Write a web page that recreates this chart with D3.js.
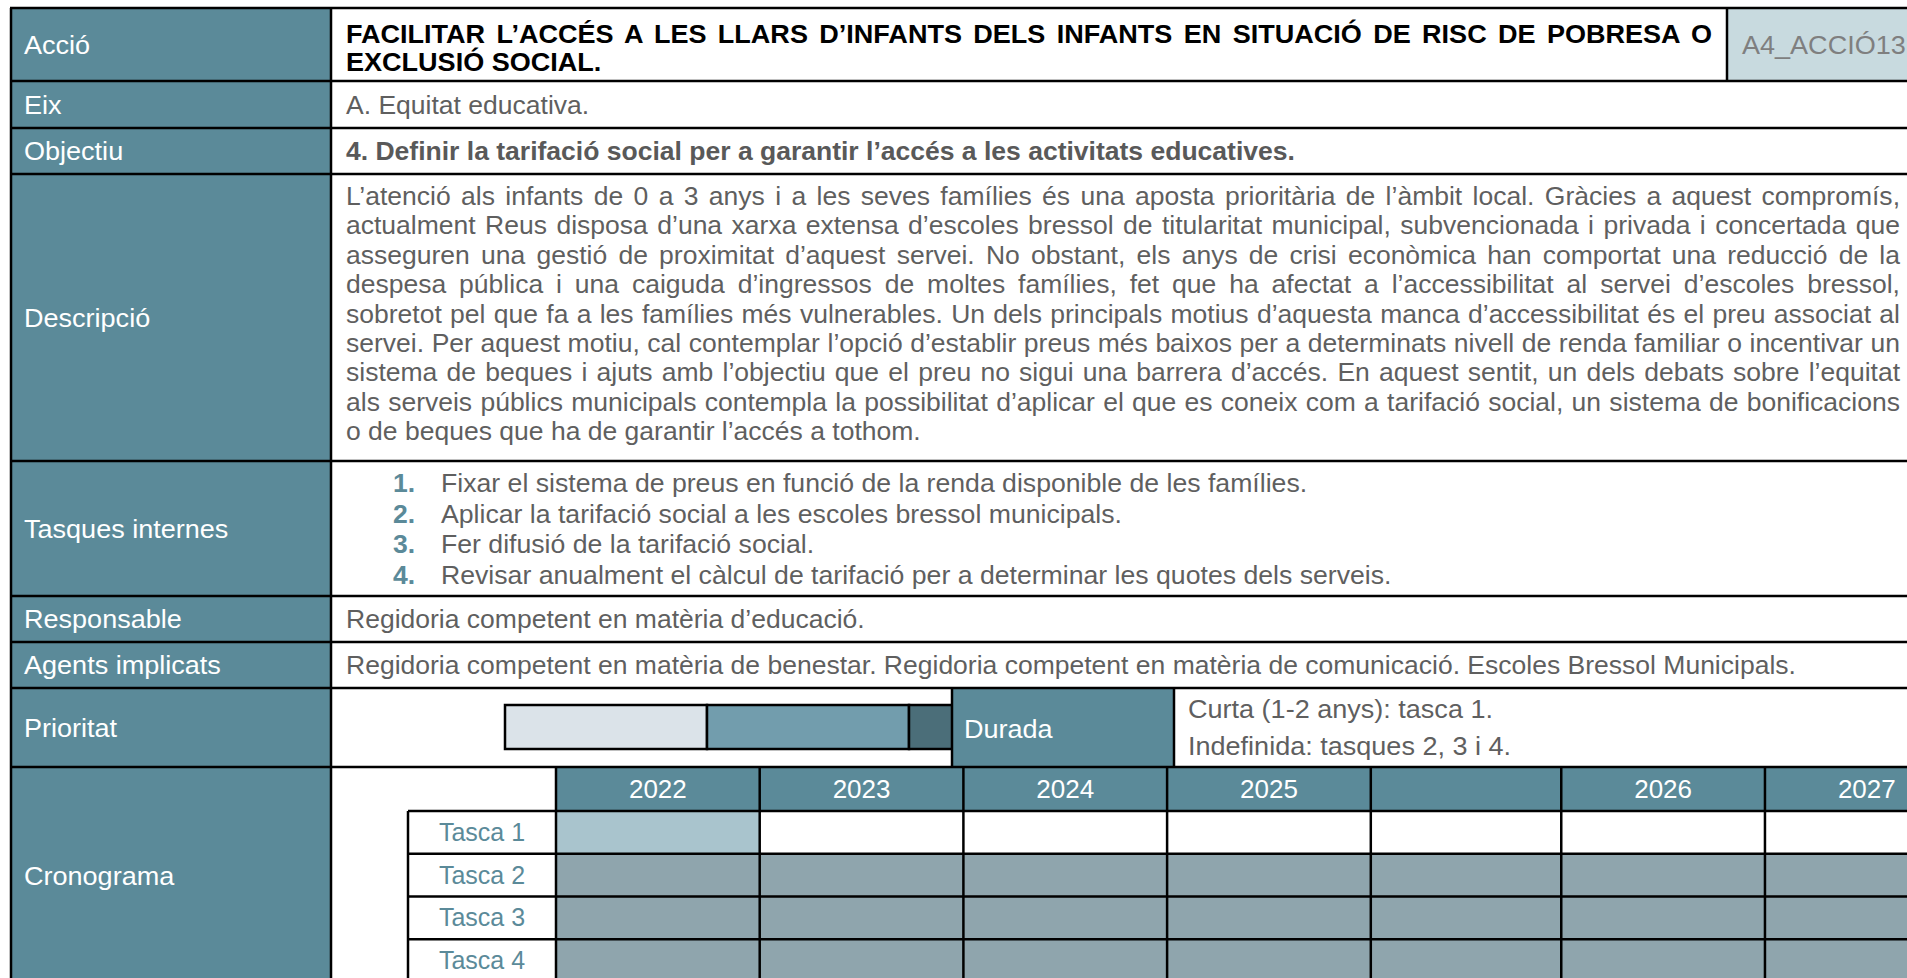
<!DOCTYPE html>
<html><head><meta charset="utf-8">
<script src="https://cdn.jsdelivr.net/npm/d3@7"></script>
<style>html,body{margin:0;padding:0;background:#fff;overflow:hidden}</style>
</head><body><svg id="c" width="1907" height="978"></svg>
<script>
// ---------------- DATA ----------------
const rowLabels = ["Acció","Eix","Objectiu","Descripció","Tasques internes","Responsable","Agents implicats","Prioritat","Cronograma"];
const titleLines = ["FACILITAR L’ACCÉS A LES LLARS D’INFANTS DELS INFANTS EN SITUACIÓ DE RISC DE POBRESA O","EXCLUSIÓ SOCIAL."];
const actionCode = "A4_ACCIÓ13";
const eixText = "A. Equitat educativa.";
const objectiuText = "4. Definir la tarifació social per a garantir l’accés a les activitats educatives.";
const descLines = [
  "L’atenció als infants de 0 a 3 anys i a les seves famílies és una aposta prioritària de l’àmbit local. Gràcies a aquest compromís,",
  "actualment Reus disposa d’una xarxa extensa d’escoles bressol de titularitat municipal, subvencionada i privada i concertada que",
  "asseguren una gestió de proximitat d’aquest servei. No obstant, els anys de crisi econòmica han comportat una reducció de la",
  "despesa pública i una caiguda d’ingressos de moltes famílies, fet que ha afectat a l’accessibilitat al servei d’escoles bressol,",
  "sobretot pel que fa a les famílies més vulnerables. Un dels principals motius d’aquesta manca d’accessibilitat és el preu associat al",
  "servei. Per aquest motiu, cal contemplar l’opció d’establir preus més baixos per a determinats nivell de renda familiar o incentivar un",
  "sistema de beques i ajuts amb l’objectiu que el preu no sigui una barrera d’accés. En aquest sentit, un dels debats sobre l’equitat",
  "als serveis públics municipals contempla la possibilitat d’aplicar el que es coneix com a tarifació social, un sistema de bonificacions",
  "o de beques que ha de garantir l’accés a tothom."
];
const internalTasks = [
  "Fixar el sistema de preus en funció de la renda disponible de les famílies.",
  "Aplicar la tarifació social a les escoles bressol municipals.",
  "Fer difusió de la tarifació social.",
  "Revisar anualment el càlcul de tarifació per a determinar les quotes dels serveis."
];
const responsableText = "Regidoria competent en matèria d’educació.";
const agentsText = "Regidoria competent en matèria de benestar. Regidoria competent en matèria de comunicació. Escoles Bressol Municipals.";
const priorityLevels = ["Baixa","Mitjana","Alta"];
const durationLabel = "Durada";
const durationLines = ["Curta (1-2 anys): tasca 1.","Indefinida: tasques 2, 3 i 4."];
const years = ["2022","2023","2024","2025","","2026","2027"];
const taskNames = ["Tasca 1","Tasca 2","Tasca 3","Tasca 4"];
// 0 = not scheduled, 1 = short-term, 2 = indefinite
const schedule = [
  [1,0,0,0,0,0,0],
  [2,2,2,2,2,2,2],
  [2,2,2,2,2,2,2],
  [2,2,2,2,2,2,2]
];

// ---------------- LAYOUT ----------------
const W = 1907, H = 978;
const FONT = "'Liberation Sans', Arial, Helvetica, sans-serif";
const SX = 1.02;
const TEAL = "#5b8a99", GREY = "#5f5f5f", LINE = "#000";
const LW = 2.5;
const xLeft = 11, xLab = 331, xText = 346, xRight = 1907;
const rowEdges = [8, 81, 128, 174, 461, 596, 642, 688, 767, 985];

const svg = d3.select("#c");
svg.append("rect").attr("width", W).attr("height", H).attr("fill", "#fff");

function txt(g, x, y, s, o = {}) {
  const sx = o.sx || SX;
  const t = g.append("text")
    .attr("transform", `translate(${x},${y}) scale(${sx},1)`)
    .attr("font-family", FONT)
    .attr("font-size", o.size || 26)
    .attr("font-weight", o.weight || "normal")
    .attr("fill", o.fill || GREY)
    .attr("text-anchor", o.anchor || "start")
    .text(s);
  if (o.justify) {
    const target = o.justify / sx;
    const w = t.node().getComputedTextLength();
    const n = (s.match(/ /g) || []).length;
    if (n) t.style("word-spacing", ((target - w) / n) + "px");
  }
  return t;
}

const bg = svg.append("g"), fg = svg.append("g"), lines = svg.append("g");

// label column
bg.append("rect").attr("x", xLeft).attr("y", rowEdges[0]).attr("width", xLab - xLeft)
  .attr("height", rowEdges[rowEdges.length - 1] - rowEdges[0]).attr("fill", TEAL);
rowLabels.forEach((l, i) => {
  const cy = (rowEdges[i] + rowEdges[i + 1]) / 2;
  txt(fg, 24, cy + 9, l, { fill: "#fff", sx: 1.04 });
});

// code box
bg.append("rect").attr("x", 1727).attr("y", rowEdges[0]).attr("width", xRight - 1727)
  .attr("height", rowEdges[1] - rowEdges[0]).attr("fill", "#c8dadf");
txt(fg, 1742, 54, actionCode, { fill: "#7f7f7f", sx: 1.04 });

// title
titleLines.forEach((l, i) => {
  txt(fg, xText, 43 + i * 28, l, { fill: "#000", weight: "bold", size: 26, sx: 1.04,
    justify: i === 0 ? 1712 - xText : null });
});

txt(fg, xText, 113.5, eixText);
txt(fg, xText, 160, objectiuText, { weight: "bold", fill: "#595959" });

// description
descLines.forEach((l, i) => {
  txt(fg, xText, 205 + i * 29.4, l, { justify: i < descLines.length - 1 ? 1900 - xText : null });
});

// internal tasks
internalTasks.forEach((l, i) => {
  const y = 492 + i * 30.7;
  txt(fg, 393, y, (i + 1) + ".", { weight: "bold", fill: TEAL });
  txt(fg, 441, y, l, { sx: 1.025 });
});

txt(fg, xText, 628, responsableText);
txt(fg, xText, 674, agentsText);

// priority bar
const pScale = d3.scaleBand().domain(priorityLevels).range([505, 1111]);
const pColor = d3.scaleOrdinal().domain(priorityLevels).range(["#dbe3e9", "#729dad", "#4b6e79"]);
bg.selectAll(".prio").data(priorityLevels).join("rect")
  .attr("x", d => pScale(d)).attr("y", 705).attr("width", pScale.bandwidth()).attr("height", 44)
  .attr("fill", d => pColor(d)).attr("stroke", LINE).attr("stroke-width", LW);

// durada cell
const durL = 952, durR = 1174;
bg.append("rect").attr("x", durL).attr("y", rowEdges[7]).attr("width", durR - durL)
  .attr("height", rowEdges[8] - rowEdges[7]).attr("fill", TEAL);
bg.append("rect").attr("x", durR).attr("y", rowEdges[7] + 1).attr("width", xRight - durR)
  .attr("height", rowEdges[8] - rowEdges[7] - 2).attr("fill", "#fff");
txt(fg, 964, 738, durationLabel, { fill: "#fff", sx: 1.04 });
durationLines.forEach((l, i) => txt(fg, 1188, 718 + i * 37, l, { sx: 1.04 }));

// cronograma gantt: spacer column (no year) is narrower
const colUnits = years.map(y => y ? 1 : 0.935);
const colStart = d3.cumsum([0, ...colUnits]);
const gx = d3.scaleLinear().domain([0, 1]).range([556, 556 + 203.7]);
const colX = i => gx(colStart[i]);
const colW = i => gx(colStart[i + 1]) - gx(colStart[i]);
const gy = d3.scaleBand().domain(taskNames).range([811, 982]);
const hTop = 767;
const cellColor = d3.scaleOrdinal().domain([0, 1, 2]).range(["#ffffff", "#a9c4cd", "#8fa5ad"]);

bg.selectAll(".yh").data(years).join("rect")
  .attr("x", (d, i) => colX(i)).attr("y", hTop).attr("width", (d, i) => colW(i)).attr("height", gy.range()[0] - hTop)
  .attr("fill", TEAL);
years.forEach((y, i) => {
  if (y) txt(fg, colX(i) + colW(i) / 2, 798, y, { fill: "#fff", anchor: "middle", sx: 1 });
});

schedule.forEach((row, r) => {
  bg.selectAll(".c" + r).data(row).join("rect")
    .attr("x", (d, i) => colX(i)).attr("y", gy(taskNames[r])).attr("width", (d, i) => colW(i))
    .attr("height", gy.bandwidth()).attr("fill", d => cellColor(d));
});
taskNames.forEach(t => {
  txt(fg, 482, gy(t) + gy.bandwidth() / 2 + 8.5, t, { fill: TEAL, anchor: "middle", size: 25, sx: 1 });
});

// ---------------- LINES ----------------
function hl(x1, x2, y) { lines.append("line").attr("x1", x1).attr("x2", x2).attr("y1", y).attr("y2", y).attr("stroke", LINE).attr("stroke-width", LW); }
function vl(x, y1, y2) { lines.append("line").attr("x1", x).attr("x2", x).attr("y1", y1).attr("y2", y2).attr("stroke", LINE).attr("stroke-width", LW); }

rowEdges.slice(0, -1).forEach(y => hl(xLeft - 1, xRight, y));
vl(xLeft, rowEdges[0], H);
vl(xLab, rowEdges[0], H);
vl(1727, rowEdges[0], rowEdges[1]);
vl(durL, rowEdges[7], rowEdges[8]);
vl(durR, rowEdges[7], rowEdges[8]);
// gantt grid
colStart.forEach(u => vl(gx(u), hTop, 982));
vl(408, gy.range()[0], 982);
taskNames.forEach(t => hl(408, xRight, gy(t)));
hl(408, xRight, gy.range()[1]);
</script>
</body></html>
